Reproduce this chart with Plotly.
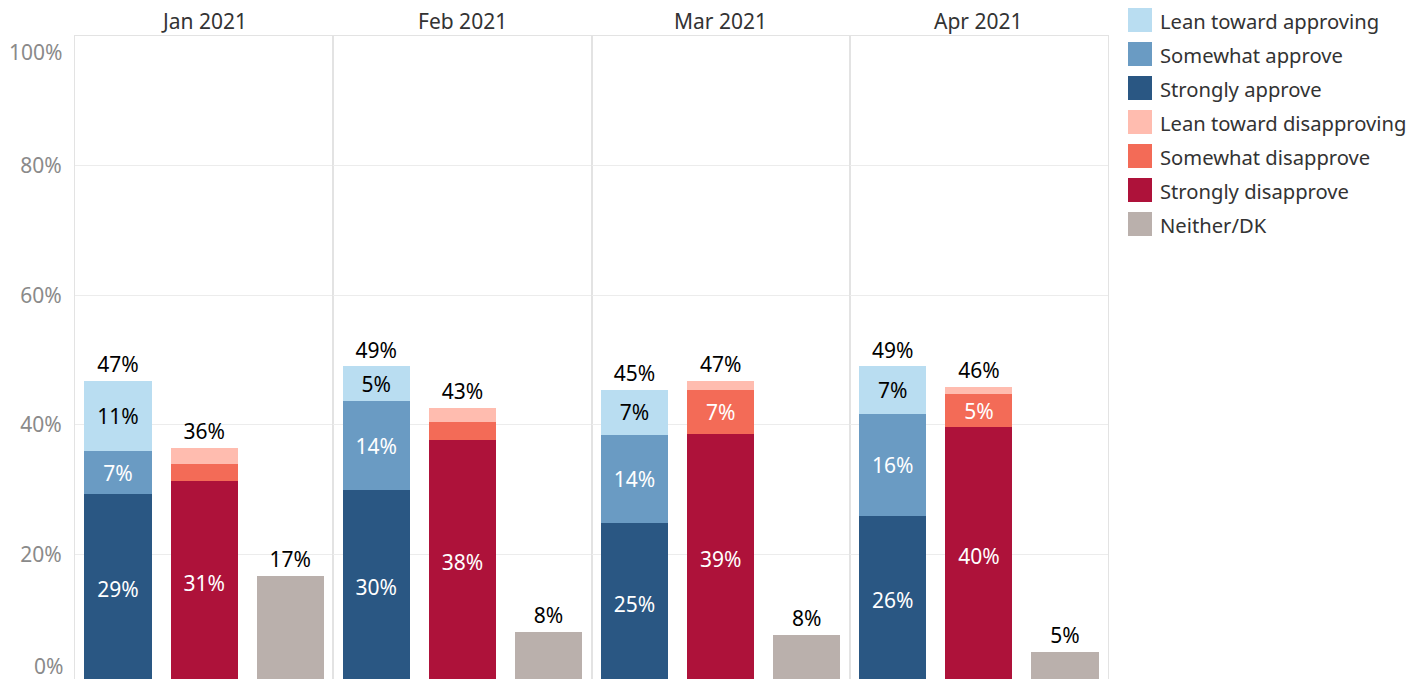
import plotly.graph_objects as go
from plotly.subplots import make_subplots

months = ["Jan 2021", "Feb 2021", "Mar 2021", "Apr 2021"]
groups = ["Approve", "Disapprove", "Neither"]

strongly_approve = [29.3, 29.9, 24.8, 25.9]
somewhat_approve = [6.6, 13.8, 13.6, 15.7]
lean_approve = [10.9, 5.3, 7.0, 7.4]
strongly_disapprove = [31.3, 37.6, 38.6, 39.6]
somewhat_disapprove = [2.7, 2.9, 6.7, 5.2]
lean_disapprove = [2.4, 2.1, 1.5, 1.1]
neither_dk = [16.7, 8.1, 7.6, 5.0]

y_ticks = [0, 20, 40, 60, 80, 100]

FONT = "Noto Sans"
OFF = 8  # page body margin of the browser
W, H = 1426 - OFF, 679 - OFF
L, R, T, B = 75 - OFF, 1108 - OFF, 36 - OFF, 679 - OFF
ZERO_PX = 684 - OFF
TOP_PX = 36 - OFF
PX_PER_PCT = (ZERO_PX - TOP_PX) / 100.0

series = [
    # name, group, values, colour, inside text colour
    ("Strongly approve", "Approve", strongly_approve, "#2a5783", "white"),
    ("Somewhat approve", "Approve", somewhat_approve, "#6a9bc3", "white"),
    ("Lean toward approving", "Approve", lean_approve, "#b9ddf1", "black"),
    ("Strongly disapprove", "Disapprove", strongly_disapprove, "#ae123a", "white"),
    ("Somewhat disapprove", "Disapprove", somewhat_disapprove, "#f36b57", "white"),
    ("Lean toward disapproving", "Disapprove", lean_disapprove, "#ffbcaf", "black"),
    ("Neither/DK", "Neither", neither_dk, "#bab0ac", "black"),
]

legend_order = ["Lean toward approving", "Somewhat approve", "Strongly approve",
                "Lean toward disapproving", "Somewhat disapprove", "Strongly disapprove",
                "Neither/DK"]

fig = make_subplots(rows=1, cols=4, shared_yaxes=True, horizontal_spacing=0,
                    subplot_titles=months)

for mi, m in enumerate(months):
    col = mi + 1
    for name, grp, vals, color, tcol in series:
        v = vals[mi]
        txt = f"{round(v)}%" if (v >= 4 and grp != "Neither") else ""
        fig.add_trace(go.Bar(
            x=[grp], y=[v], name=name, marker_color=color, marker_line_width=0,
            text=[txt], textposition="inside", insidetextanchor="middle",
            constraintext="none", textangle=0,
            textfont=dict(color=tcol, size=21, family=FONT),
            showlegend=False, hoverinfo="name+y",
        ), row=1, col=col)
    totals = [strongly_approve[mi] + somewhat_approve[mi] + lean_approve[mi],
              strongly_disapprove[mi] + somewhat_disapprove[mi] + lean_disapprove[mi],
              neither_dk[mi]]
    fig.add_trace(go.Scatter(
        x=groups, y=totals, mode="markers+text",
        marker=dict(size=4, opacity=0),
        text=[f"{round(t)}%" for t in totals], textposition="top center",
        textfont=dict(color="black", size=21, family=FONT),
        showlegend=False, hoverinfo="skip", cliponaxis=False,
    ), row=1, col=col)

fig.update_layout(
    barmode="stack", bargap=0.22,
    width=W, height=H,
    margin=dict(l=L, r=W - R, t=T, b=H - B, autoexpand=False),
    plot_bgcolor="white", paper_bgcolor="white",
    font=dict(family=FONT, color="#333333"),
    showlegend=False,
)

# the zero line lies just below the visible bottom edge of the plot
y_bottom = (ZERO_PX - B) / PX_PER_PCT
fig.update_yaxes(range=[y_bottom, 100], tickvals=y_ticks[1:-1],
                 ticktext=[f"{t}%" for t in y_ticks[1:-1]],
                 gridcolor="#ececec", gridwidth=1, zeroline=False,
                 showline=True, mirror=True, linecolor="#e3e3e3",
                 ticks="outside", ticklen=8, tickcolor="rgba(0,0,0,0)",
                 tickfont=dict(size=21, color="#8a8a8a", family=FONT))
fig.update_xaxes(showticklabels=False, ticks="", showgrid=False,
                 showline=True, mirror=True, linecolor="#e3e3e3",
                 categoryorder="array", categoryarray=groups)

# subplot titles
for ann in fig.layout.annotations:
    ann.font = dict(size=21, color="#333333", family=FONT)
    ann.yshift = -1

# edge y labels (0% and 100%) shifted inside, as in the original
def val_to_paper_y(v):
    return (v - y_bottom) / (100 - y_bottom)

for val, shift in [(y_ticks[0], 18), (y_ticks[-1], -16)]:
    fig.add_annotation(x=0, xref="paper", y=val_to_paper_y(val), yref="paper",
                       xanchor="right", yanchor="middle", xshift=-10, yshift=shift,
                       text=f"{val}%", showarrow=False,
                       font=dict(size=21, color="#8a8a8a", family=FONT))

# manual legend
def px_to_paper_x(px):
    return (px - OFF - L) / (R - L)

def px_to_paper_y(py):
    return (B - (py - OFF)) / (B - T)

colors = {s[0]: s[3] for s in series}
for i, name in enumerate(legend_order):
    top = 8 + 34 * i
    fig.add_shape(type="rect", xref="paper", yref="paper",
                  x0=px_to_paper_x(1128), x1=px_to_paper_x(1152),
                  y0=px_to_paper_y(top + 24), y1=px_to_paper_y(top),
                  fillcolor=colors[name], line_width=0)
    fig.add_annotation(xref="paper", yref="paper", x=px_to_paper_x(1158),
                       y=px_to_paper_y(top + 13), xanchor="left", yanchor="middle",
                       text=name, showarrow=False,
                       font=dict(size=20.2, color="#333333", family=FONT))

fig.write_html("out.html")
